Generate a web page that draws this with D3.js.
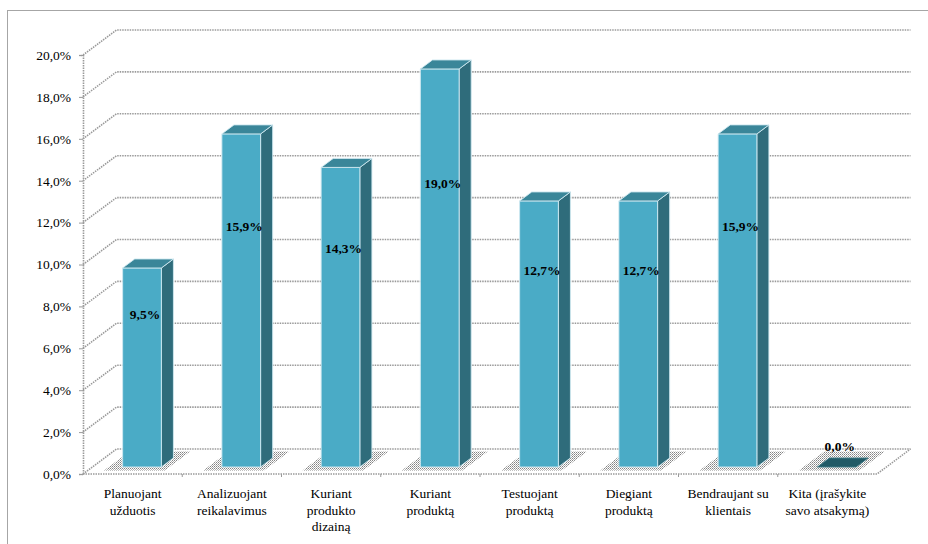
<!DOCTYPE html>
<html>
<head>
<meta charset="utf-8">
<script src="https://cdn.jsdelivr.net/npm/d3@7"></script>
</head>
<body style="margin:0;padding:0;background:#fff">
<svg id="chart" width="928" height="544" style="display:block"></svg>
<script>
// Survey answers: share of respondents per activity
const categories = [
  "Planuojant\nužduotis",
  "Analizuojant\nreikalavimus",
  "Kuriant\nprodukto\ndizainą",
  "Kuriant\nproduktą",
  "Testuojant\nproduktą",
  "Diegiant\nproduktą",
  "Bendraujant su\nklientais",
  "Kita (įrašykite\nsavo atsakymą)"
];
const values = [9.5, 15.9, 14.3, 19.0, 12.7, 12.7, 15.9, 0.0];
const yTicks = [0, 2, 4, 6, 8, 10, 12, 14, 16, 18, 20];

const FONT = '"Liberation Serif"';
const fmt = v => v.toFixed(1).replace(".", ",") + "%";

const svg = d3.select("#chart");

// 3D projection: depth offset of the back wall relative to the front plane
const depthX = 33.5, depthY = -25;
const barDepthFront = 0.28, barDepthBack = 0.64;

const x = d3.scaleBand().domain(categories).range([83, 877]).padding(0);
const y = d3.scaleLinear().domain([0, 20]).range([474, 55]);

const P = (px, v, f) => [px + depthX * f, y(v) + depthY * f];
const poly = pts => pts.map(p => p.join(",")).join(" ");

// outer frame
svg.append("rect")
  .attr("x", 7.5).attr("y", 10.5).attr("width", 960).attr("height", 600)
  .attr("fill", "none").attr("stroke", "#a6a6a6").attr("stroke-width", 1);

// stipple pattern for the floor shadows
const defs = svg.append("defs");
const pat = defs.append("pattern")
  .attr("id", "stipple").attr("width", 2).attr("height", 2)
  .attr("patternUnits", "userSpaceOnUse");
pat.append("rect").attr("width", 1).attr("height", 1).attr("fill", "#6e6e6e");
pat.append("rect").attr("x", 1).attr("y", 1).attr("width", 1).attr("height", 1).attr("fill", "#a0a0a0");

const gridStyle = sel => sel
  .attr("fill", "none")
  .attr("stroke", "#9a9a9a")
  .attr("stroke-width", 1.6)
  .attr("stroke-dasharray", "1.5,1");

const [xL, xR] = x.range();

// gridlines on the side wall and the back wall
const grid = svg.append("g");
yTicks.forEach(t => {
  grid.append("polyline")
    .attr("points", poly([P(xL, t, 0), P(xL, t, 1), P(xR, t, 1)]))
    .call(gridStyle);
});

// floor outline
svg.append("polyline")
  .attr("points", poly([P(xL, 0, 0), P(xR, 0, 0), P(xR, 0, 1)]))
  .call(gridStyle);

// front value axis
const yAxis = d3.axisLeft(y).tickValues(yTicks).tickFormat(fmt).tickSizeOuter(0).tickSize(4).tickPadding(8);
const ax = svg.append("g").attr("transform", `translate(${xL},0)`).call(yAxis);
ax.select(".domain").attr("stroke", "#9a9a9a").attr("stroke-width", 1.6).attr("stroke-dasharray", "1.5,1");
ax.selectAll(".tick line").attr("stroke", "#9a9a9a");
ax.selectAll(".tick text")
  .attr("fill", "#000")
  .style("font-family", FONT)
  .style("font-size", "13.5px");

// category ticks on the front floor edge
const catTicks = svg.append("g");
categories.forEach((c, i) => {
  const px = x(c);
  if (i > 0) {
    catTicks.append("line")
      .attr("x1", px).attr("x2", px).attr("y1", y(0)).attr("y2", y(0) + 3)
      .attr("stroke", "#9a9a9a");
  }
});

// category labels
const catLabels = svg.append("g");
categories.forEach(c => {
  const cx = x(c) + x.bandwidth() / 2;
  const t = catLabels.append("text")
    .attr("x", cx)
    .attr("y", 498)
    .attr("text-anchor", "middle")
    .attr("fill", "#000")
    .style("font-family", FONT)
    .style("font-size", "13.5px");
  c.split("\n").forEach((line, k) => {
    t.append("tspan").attr("x", cx).attr("dy", k === 0 ? 0 : 16.5).text(line);
  });
});

const barW = x.bandwidth() * 0.39;
const inset = (x.bandwidth() - barW) / 2;

// floor shadows
const shadows = svg.append("g").attr("opacity", 0.85);
categories.forEach(c => {
  const l = x(c) + inset - 14, r = x(c) + inset + barW + 8;
  shadows.append("polygon")
    .attr("points", poly([P(l, 0, 0.14), P(r, 0, 0.14), P(r, 0, 0.9), P(l, 0, 0.9)]))
    .attr("fill", "url(#stipple)");
});

// bars: front, side and top faces
const bars = svg.append("g");
categories.forEach((c, i) => {
  const v = values[i];
  const l = x(c) + inset, r = l + barW;
  const f0 = barDepthFront, f1 = barDepthBack;
  const g = bars.append("g").attr("stroke", "#cfe9f0").attr("stroke-width", 0.9).attr("stroke-linejoin", "round");
  if (v > 0) {
    g.append("polygon")
      .attr("points", poly([P(r, 0, f0), P(r, 0, f1), P(r, v, f1), P(r, v, f0)]))
      .attr("fill", "#2f6c7b");
    g.append("polygon")
      .attr("points", poly([P(l, 0, f0), P(r, 0, f0), P(r, v, f0), P(l, v, f0)]))
      .attr("fill", "#4aabc6");
  }
  g.append("polygon")
    .attr("points", poly([P(l, v, f0), P(r, v, f0), P(r, v, f1), P(l, v, f1)]))
    .attr("fill", v > 0 ? "#3a8699" : "#215a66")
    .attr("stroke", v > 0 ? "#cfe9f0" : "#3f7a86");
});

// value labels
const labels = svg.append("g");
categories.forEach((c, i) => {
  const v = values[i];
  const [lx, ly] = P(x(c) + x.bandwidth() / 2 + 3, 0.66 * v + 1.0, barDepthFront);
  labels.append("text")
    .attr("x", lx).attr("y", ly)
    .attr("dy", "0.35em")
    .attr("text-anchor", "middle")
    .attr("fill", "#000")
    .style("font-family", FONT)
    .style("font-size", "13.5px")
    .style("font-weight", "bold")
    .text(fmt(v));
});
</script>
</body>
</html>
